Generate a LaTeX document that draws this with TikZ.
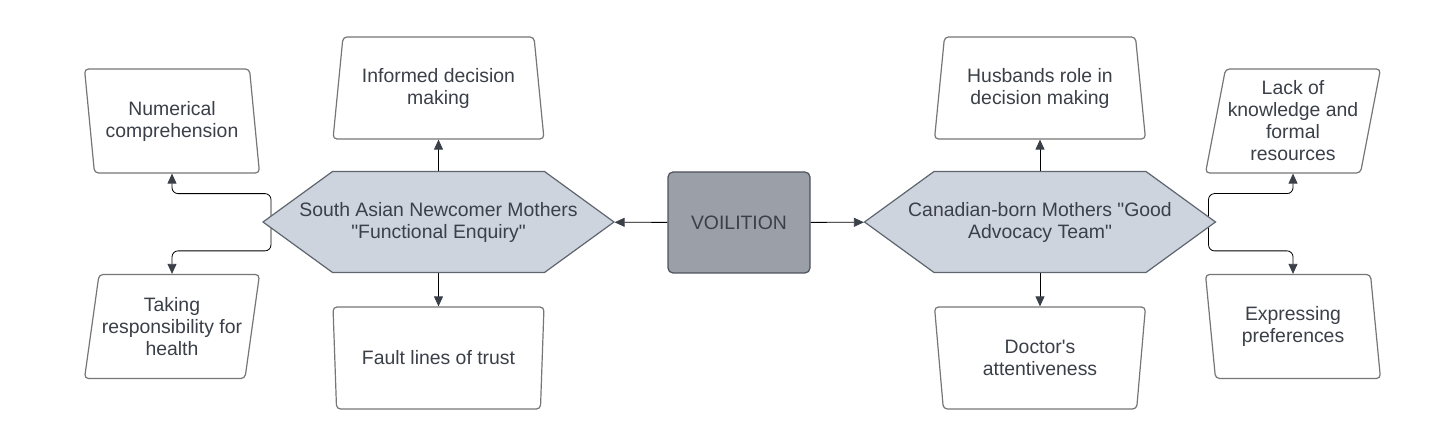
\documentclass[tikz,border=0pt]{standalone}
\usepackage{fontspec}
\setmainfont{Liberation Sans}
\usepackage{xcolor}
\usetikzlibrary{shapes.geometric, shapes.symbols, arrows.meta, backgrounds}

\definecolor{inkgray}{RGB}{58,63,72}
\definecolor{hexfill}{RGB}{206,212,221}
\definecolor{hexline}{RGB}{95,101,110}
\definecolor{corefill}{RGB}{154,159,168}
\definecolor{coreline}{RGB}{78,83,91}
\definecolor{boxline}{RGB}{118,118,118}
\definecolor{linkgray}{RGB}{112,116,122}

\tikzset{
	every node/.style = {font=\fontsize{9.7}{11}\selectfont, text=inkgray, align=center},
	theme/.style = {signal, signal to=west and east, signal pointer angle=72, draw=hexline, fill=hexfill, line width=0.6pt, minimum width=175.5pt, minimum height=50.5pt, inner sep=0pt},
	core/.style = {rectangle, rounded corners=2.5pt, draw=coreline, fill=corefill, line width=0.6pt, minimum width=71pt, minimum height=50.5pt},
	trap/.style = {trapezium, trapezium stretches body, trapezium left angle=#1, trapezium right angle=#1, draw=boxline, fill=white, line width=0.6pt, rounded corners=2pt, minimum width=105.5pt, minimum height=51pt, inner sep=0pt},
	slant/.style 2 args = {trapezium, trapezium stretches body, trapezium left angle=#1, trapezium right angle=#2, draw=boxline, fill=white, line width=0.6pt, rounded corners=2pt, minimum width=87.5pt, minimum height=52pt, inner sep=0pt},
	link/.style = {draw=linkgray, line width=0.6pt, rounded corners=3pt}
}

\begin{document}
\begin{tikzpicture}[x=0.5pt, y=-0.5pt]
	\useasboundingbox (0,0) rectangle (1430,448);

	\node [theme] (asian) at (438.5,222) {};
	\node (asiantext) at (asian) {South Asian Newcomer Mothers\\\textquotedbl Functional Enquiry\textquotedbl};
	\node [core] (volition) at (739,222.5) {VOILITION};
	\node [theme] (canada) at (1040,222) {};
	\node (canadatext) at (canada) {Canadian-born Mothers \textquotedbl Good\\Advocacy Team\textquotedbl};

	\node [trap=76] (informed) at (438.5,88) {Informed decision\\making};
	\node [trap=104] (trust) at (438.5,358) {Fault lines of trust};
	\node [trap=76] (husbands) at (1040,88) {Husbands role in\\decision making};
	\node [trap=104] (doctor) at (1040,358) {Doctor\textquotesingle s\\attentiveness};

	\node [slant={104}{76}] (numeric) at (172,121) {Numerical\\comprehension};
	\node [slant={76}{104}] (health) at (172,326.5) {Taking\\responsibility for\\health};
	\node [slant={76}{104}] (lack) at (1293,121) {Lack of\\knowledge and\\formal\\resources};
	\node [slant={104}{76}] (prefer) at (1293,326.5) {Expressing\\preferences};

	\begin{scope}[on background layer, link, -{Triangle[length=5pt, width=4.5pt, color=inkgray]}]
		\draw (volition) -- (asian);
		\draw (volition) -- (canada);
		\draw (asian) -- (informed);
		\draw (asian) -- (trust);
		\draw (canada) -- (husbands);
		\draw (canada) -- (doctor);
		\draw ([xshift=4.5pt]asian.west) |- ([yshift=-10pt]numeric.south) -- (numeric.south);
		\draw ([xshift=4.5pt]asian.west) |- ([yshift=11.5pt]health.north) -- (health.north);
		\draw ([xshift=-4pt]canada.east) |- ([yshift=-10pt]lack.south) -- (lack.south);
		\draw ([xshift=-4pt]canada.east) |- ([yshift=11.5pt]prefer.north) -- (prefer.north);
	\end{scope}
\end{tikzpicture}
\end{document}
